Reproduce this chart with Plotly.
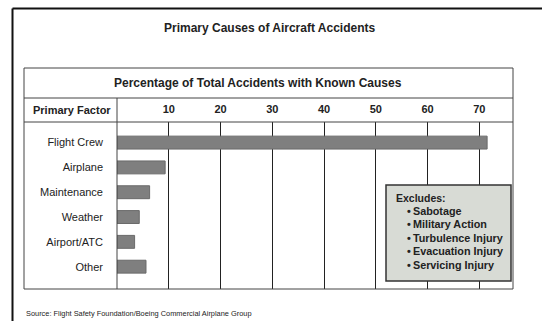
import plotly.graph_objects as go

categories = ["Flight Crew", "Airplane", "Maintenance", "Weather", "Airport/ATC", "Other"]
values = [71.5, 9.3, 6.3, 4.3, 3.4, 5.6]
tick_vals = [10, 20, 30, 40, 50, 60, 70]
excludes = ["Sabotage", "Military Action", "Turbulence Injury", "Evacuation Injury", "Servicing Injury"]

W, H = 542, 321
L, R, T, B = 117, 513, 122, 289

def px(x):
    return (x - L) / (R - L)

def py(y):
    return (B - y) / (B - T)

FONT = "Liberation Sans, Arial, sans-serif"

fig = go.Figure()
fig.add_trace(go.Bar(
    x=values, y=categories, orientation="h", width=0.52,
    marker=dict(color="#7f7f7f", line=dict(color="#6a6a6a", width=1)),
    hoverinfo="x+y",
))

fig.update_layout(
    width=W, height=H,
    margin=dict(l=L, r=W - R, t=T, b=H - B),
    paper_bgcolor="white", plot_bgcolor="white",
    showlegend=False,
    font=dict(family=FONT, color="#222"),
    xaxis=dict(
        range=[0, 76.5], side="top", tickvals=tick_vals,
        ticktext=[str(v) for v in tick_vals],
        showgrid=True, gridcolor="#222", gridwidth=1,
        zeroline=False, showline=False, ticks="", ticklabelstandoff=6,
        tickfont=dict(family=FONT, size=11, color="#222", weight="bold"),
        fixedrange=True,
    ),
    yaxis=dict(
        categoryorder="array", categoryarray=categories,
        range=[5.9, -0.83], showgrid=False, zeroline=False, showline=False,
        ticks="", ticklabelstandoff=13,
        tickfont=dict(family=FONT, size=11, color="#222"),
        fixedrange=True,
    ),
)

shapes = []
# outer frame (left & top)
shapes.append(dict(type="line", xref="paper", yref="paper", x0=px(12.5), x1=px(12.5),
                   y0=py(8.5), y1=py(340), line=dict(color="#111", width=2)))
shapes.append(dict(type="line", xref="paper", yref="paper", x0=px(12.5), x1=px(560),
                   y0=py(8.5), y1=py(8.5), line=dict(color="#111", width=2)))
# inner table box
shapes.append(dict(type="rect", xref="paper", yref="paper", x0=px(24), x1=px(513),
                   y0=py(68), y1=py(289), line=dict(color="#444", width=1)))
shapes.append(dict(type="line", xref="paper", yref="paper", x0=px(24), x1=px(513),
                   y0=py(98), y1=py(98), line=dict(color="#444", width=1)))
shapes.append(dict(type="line", xref="paper", yref="paper", x0=px(24), x1=px(513),
                   y0=py(122), y1=py(122), line=dict(color="#444", width=1)))
shapes.append(dict(type="line", xref="paper", yref="paper", x0=px(117), x1=px(117),
                   y0=py(98), y1=py(289), line=dict(color="#444", width=1)))
# excludes box
shapes.append(dict(type="rect", xref="paper", yref="paper", x0=px(386), x1=px(511),
                   y0=py(185), y1=py(281), fillcolor="#d8dbd5",
                   line=dict(color="#333", width=1.5), layer="above"))
fig.update_layout(shapes=shapes)

ann = []
ann.append(dict(text="<b>Primary Causes of Aircraft Accidents</b>", xref="paper", yref="paper",
                x=px(269.5), y=py(28), showarrow=False, xanchor="center", yanchor="middle",
                font=dict(family=FONT, size=12, color="#222")))
ann.append(dict(text="<b>Percentage of Total Accidents with Known Causes</b>", xref="paper", yref="paper",
                x=px(258), y=py(83), showarrow=False, xanchor="center", yanchor="middle",
                font=dict(family=FONT, size=12, color="#222")))
ann.append(dict(text="<b>Primary Factor</b>", xref="paper", yref="paper",
                x=px(72), y=py(110), showarrow=False, xanchor="center", yanchor="middle",
                font=dict(family=FONT, size=11, color="#222")))
ann.append(dict(text="Source: Flight Safety Foundation/Boeing Commercial Airplane Group",
                xref="paper", yref="paper", x=px(24), y=py(313), showarrow=False,
                xanchor="left", yanchor="middle",
                font=dict(family="Liberation Sans Narrow, Arial Narrow, sans-serif", size=7.4, color="#222")))
ann.append(dict(text="<b>Excludes:</b>", xref="paper", yref="paper", x=px(394), y=py(198),
                showarrow=False, xanchor="left", yanchor="middle",
                font=dict(family=FONT, size=10.5, color="#222")))
for i, item in enumerate(excludes):
    ann.append(dict(text="<b>\u2022\u2009" + item + "</b>", xref="paper", yref="paper",
                    x=px(405), y=py(211 + i * 13.4), showarrow=False,
                    xanchor="left", yanchor="middle",
                    font=dict(family=FONT, size=10.8, color="#222")))
fig.update_layout(annotations=ann)

fig.write_html("out.html")
